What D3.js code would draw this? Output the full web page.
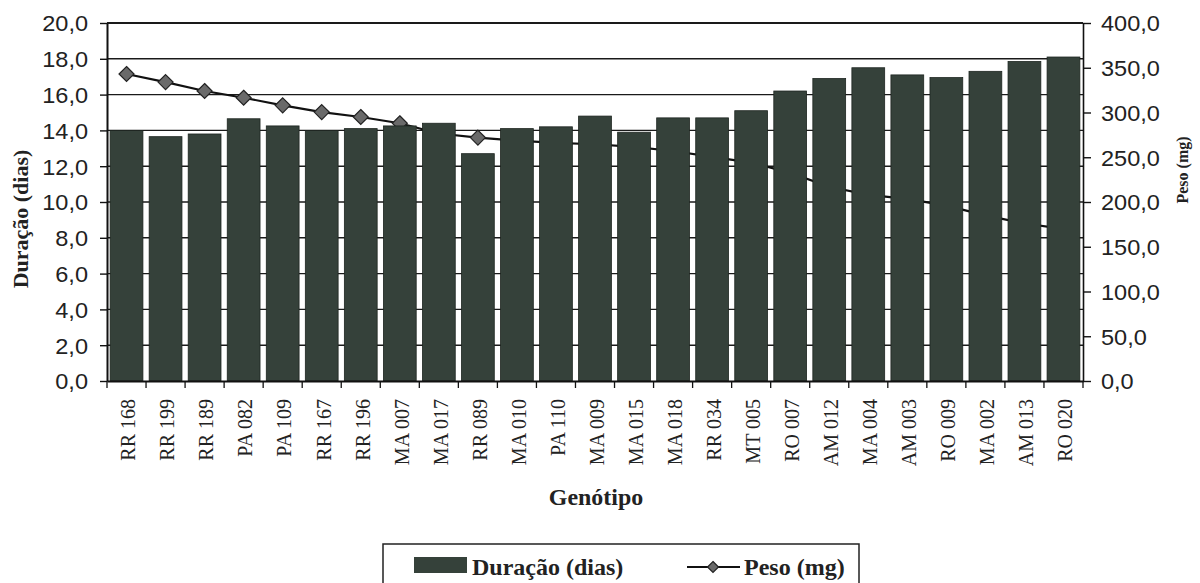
<!DOCTYPE html>
<html>
<head>
<meta charset="utf-8">
<script src="https://cdn.jsdelivr.net/npm/d3@7"></script>
<style>
  html, body { margin: 0; padding: 0; background: #fff; }
  svg { display: block; }
</style>
</head>
<body>
<svg id="chart" width="1200" height="583"></svg>
<script>
// ---- data ----
const genotipos = ["RR 168","RR 199","RR 189","PA 082","PA 109","RR 167","RR 196","MA 007","MA 017","RR 089","MA 010","PA 110","MA 009","MA 015","MA 018","RR 034","MT 005","RO 007","AM 012","MA 004","AM 003","RO 009","MA 002","AM 013","RO 020"];
const duracao = [14.0,13.65,13.8,14.65,14.25,14.0,14.1,14.25,14.4,12.7,14.1,14.2,14.8,13.9,14.7,14.7,15.1,16.2,16.9,17.5,17.1,16.95,17.3,17.85,18.1];
const peso = [343,334,324,316.5,308,300.5,295,288,276.5,272,268.5,266,264.5,261.5,257,250.5,244,232.5,217,208,203.5,196,185,176,170];
const ticksDuracao = [0,2,4,6,8,10,12,14,16,18,20];
const ticksPeso = [0,50,100,150,200,250,300,350,400];

// ---- layout ----
const L = 107, R = 1083, T = 23, B = 381;
const barColor = "#35413a";
const fmt1 = v => v.toFixed(1).replace(".", ",");

const svg = d3.select("#chart");

const x = d3.scaleBand().domain(genotipos).range([L, R]).paddingInner(0.16).paddingOuter(0.08);
const yL = d3.scaleLinear().domain([0, 20]).range([B, T]);
const yR = d3.scaleLinear().domain([0, 400]).range([B, T]);

// gridlines
svg.append("g").selectAll("line").data(ticksDuracao.filter(d => d > 0)).join("line")
  .attr("x1", L).attr("x2", R)
  .attr("y1", d => yL(d)).attr("y2", d => yL(d))
  .attr("stroke", "#1a1a1a")
  .attr("stroke-width", d => d === 20 ? 2.2 : 1.4);

// line series (drawn behind the bars)
const line = d3.line().x((d, i) => x(genotipos[i]) + x.bandwidth() / 2).y(d => yR(d));
svg.append("path").datum(peso)
  .attr("d", line).attr("fill", "none")
  .attr("stroke", "#111").attr("stroke-width", 2.2);

const diamond = s => `M0,${-s}L${s},0L0,${s}L${-s},0Z`;
svg.append("g").selectAll("path").data(peso).join("path")
  .attr("transform", (d, i) => `translate(${x(genotipos[i]) + x.bandwidth() / 2},${yR(d)})`)
  .attr("d", diamond(7.5))
  .attr("fill", "#6a6a6a").attr("stroke", "#222").attr("stroke-width", 1.2);

// bars
svg.append("g").selectAll("rect").data(duracao).join("rect")
  .attr("x", (d, i) => x(genotipos[i]))
  .attr("y", d => yL(d))
  .attr("width", x.bandwidth())
  .attr("height", d => B - yL(d))
  .attr("fill", barColor)
  .attr("stroke", "#1d2520").attr("stroke-width", 0.8);

// left axis
const axL = svg.append("g").attr("transform", `translate(${L},0)`)
  .call(d3.axisLeft(yL).tickValues(ticksDuracao).tickFormat(fmt1).tickSize(7).tickSizeOuter(0));
axL.select(".domain").attr("stroke", "#111").attr("stroke-width", 2);
axL.selectAll(".tick line").attr("stroke", "#111").attr("stroke-width", 1.4);
axL.selectAll(".tick text")
  .attr("x", 0).attr("dy", "0.36em")
  .attr("transform", "translate(-19,0) scale(1.07,1)")
  .attr("font-family", "'Liberation Sans', Arial, sans-serif")
  .attr("font-size", 22).attr("fill", "#222");

// right axis
const axR = svg.append("g").attr("transform", `translate(${R},0)`)
  .call(d3.axisRight(yR).tickValues(ticksPeso).tickFormat(fmt1).tickSize(8).tickSizeOuter(0));
axR.select(".domain").attr("stroke", "#111").attr("stroke-width", 1.6);
axR.selectAll(".tick line").attr("stroke", "#111").attr("stroke-width", 1.4);
axR.selectAll(".tick text")
  .attr("x", 0).attr("dy", "0.36em")
  .attr("transform", "translate(18,0) scale(1.07,1)")
  .attr("font-family", "'Liberation Sans', Arial, sans-serif")
  .attr("font-size", 22).attr("fill", "#222");

// bottom axis
const axB = svg.append("g").attr("transform", `translate(0,${B})`)
  .call(d3.axisBottom(x).tickSize(0).tickSizeOuter(0));
axB.select(".domain").attr("stroke", "#111").attr("stroke-width", 2.2);
axB.selectAll(".tick text")
  .attr("x", 0).attr("y", 0).attr("dy", "0.34em")
  .attr("transform", "translate(2,18) rotate(-90)")
  .attr("text-anchor", "end")
  .attr("font-family", "'Liberation Serif', 'Times New Roman', serif")
  .attr("font-size", 20).attr("fill", "#222");
// category boundary tick marks
const bounds = genotipos.map(g => x(g) - x.step() * x.paddingInner() / 2).concat([R]);
bounds[0] = L;
svg.append("g").selectAll("line").data(bounds).join("line")
  .attr("x1", d => d).attr("x2", d => d)
  .attr("y1", B).attr("y2", B + 7)
  .attr("stroke", "#111").attr("stroke-width", 1.3);

// titles
svg.append("text")
  .attr("transform", "translate(28,219) rotate(-90)")
  .attr("text-anchor", "middle")
  .attr("font-family", "'Liberation Serif', 'Times New Roman', serif")
  .attr("font-weight", "bold").attr("font-size", 22).attr("fill", "#222")
  .text("Duração (dias)");

svg.append("text")
  .attr("transform", "translate(1188,170) rotate(-90)")
  .attr("text-anchor", "middle")
  .attr("font-family", "'Liberation Serif', 'Times New Roman', serif")
  .attr("font-weight", "bold").attr("font-size", 16).attr("fill", "#222")
  .text("Peso (mg)");

svg.append("text")
  .attr("transform", "translate(596,505) scale(1.04,1)")
  .attr("text-anchor", "middle")
  .attr("font-family", "'Liberation Serif', 'Times New Roman', serif")
  .attr("font-weight", "bold").attr("font-size", 23).attr("fill", "#222")
  .text("Genótipo");

// legend
const lg = svg.append("g");
lg.append("rect").attr("x", 383).attr("y", 544).attr("width", 476).attr("height", 60)
  .attr("fill", "#fff").attr("stroke", "#222").attr("stroke-width", 1.5);
lg.append("rect").attr("x", 414).attr("y", 557).attr("width", 53).attr("height", 16)
  .attr("fill", barColor);
lg.append("text").attr("x", 472).attr("y", 575)
  .attr("font-family", "'Liberation Serif', 'Times New Roman', serif")
  .attr("font-weight", "bold").attr("font-size", 24).attr("fill", "#222")
  .text("Duração (dias)");
lg.append("line").attr("x1", 687).attr("x2", 740).attr("y1", 567).attr("y2", 567)
  .attr("stroke", "#111").attr("stroke-width", 2.2);
lg.append("path").attr("transform", "translate(713,567)").attr("d", diamond(5.5))
  .attr("fill", "#6a6a6a").attr("stroke", "#222").attr("stroke-width", 1.2);
lg.append("text").attr("x", 744).attr("y", 575)
  .attr("font-family", "'Liberation Serif', 'Times New Roman', serif")
  .attr("font-weight", "bold").attr("font-size", 24).attr("fill", "#222")
  .text("Peso (mg)");
</script>
</body>
</html>
